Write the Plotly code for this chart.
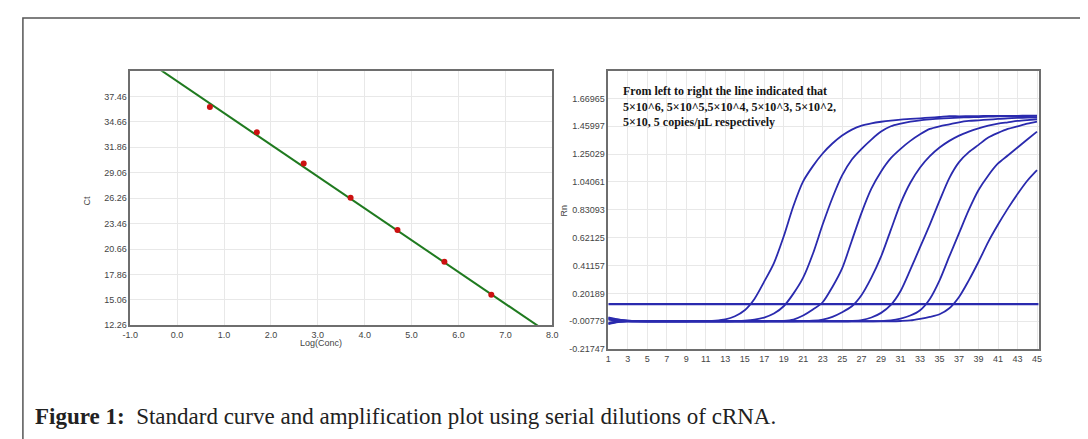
import plotly.graph_objects as go

W, H = 1088, 439

# ---------------- Standard curve data ----------------
log_conc = [0.699, 1.699, 2.699, 3.699, 4.699, 5.699, 6.699]
ct_values = [36.30, 33.51, 30.06, 26.29, 22.74, 19.26, 15.63]
fit_slope = -3.50
fit_intercept = 39.13
std_xticks = [-1.0, 0.0, 1.0, 2.0, 3.0, 4.0, 5.0, 6.0, 7.0, 8.0]
std_yticks = [12.26, 15.06, 17.86, 20.66, 23.46, 26.26, 29.06, 31.86, 34.66, 37.46]
std_xrange = [-1.0, 8.0]
std_yrange = [12.26, 40.22]

# ---------------- Amplification plot data ----------------
cycles = list(range(1, 46))
curve_5e6 = [0.018, 0.004, -0.004, -0.007, -0.008, -0.008, -0.008, -0.008, -0.008, -0.007,
             -0.006, -0.003, 0.006, 0.030, 0.075, 0.160, 0.290, 0.430, 0.630, 0.860,
             1.045, 1.160, 1.255, 1.330, 1.390, 1.435, 1.465, 1.482, 1.494, 1.503,
             1.510, 1.515, 1.520, 1.525, 1.530, 1.536, 1.535, 1.536, 1.537, 1.538,
             1.538, 1.539, 1.539, 1.540, 1.540]
curve_5e5 = [-0.025, -0.012, -0.009, -0.008, -0.008, -0.008, -0.008, -0.008, -0.008, -0.008,
             -0.008, -0.008, -0.008, -0.006, -0.003, 0.004, 0.020, 0.050, 0.105, 0.200,
             0.320, 0.500, 0.720, 0.920, 1.090, 1.210, 1.290, 1.360, 1.420, 1.460,
             1.480, 1.495, 1.505, 1.512, 1.518, 1.522, 1.525, 1.528, 1.530, 1.532,
             1.534, 1.535, 1.536, 1.537, 1.538]
curve_5e4 = [0.010, 0.000, -0.006, -0.008, -0.008, -0.008, -0.008, -0.008, -0.008, -0.008,
             -0.008, -0.008, -0.008, -0.008, -0.008, -0.008, -0.008, -0.007, -0.005, 0.005,
             0.035, 0.080, 0.135, 0.250, 0.390, 0.600, 0.810, 0.990, 1.120, 1.220,
             1.290, 1.350, 1.400, 1.440, 1.460, 1.475, 1.490, 1.500, 1.505, 1.510,
             1.515, 1.520, 1.523, 1.525, 1.527]
curve_5e3 = [-0.020, -0.010, -0.008, -0.008, -0.008, -0.008, -0.008, -0.008, -0.008, -0.008,
             -0.008, -0.008, -0.008, -0.008, -0.008, -0.008, -0.008, -0.008, -0.008, -0.008,
             -0.007, -0.004, 0.005, 0.025, 0.060, 0.105, 0.190, 0.320, 0.480, 0.680,
             0.880, 1.035, 1.150, 1.235, 1.300, 1.350, 1.390, 1.420, 1.445, 1.465,
             1.480, 1.490, 1.500, 1.507, 1.513]
curve_5e2 = [0.005, -0.004, -0.007, -0.008, -0.008, -0.008, -0.008, -0.008, -0.008, -0.008,
             -0.008, -0.008, -0.008, -0.008, -0.008, -0.008, -0.008, -0.008, -0.008, -0.008,
             -0.008, -0.008, -0.008, -0.008, -0.008, -0.006, 0.000, 0.020, 0.055, 0.115,
             0.220, 0.380, 0.550, 0.720, 0.900, 1.070, 1.190, 1.265, 1.320, 1.375,
             1.410, 1.440, 1.460, 1.480, 1.495]
curve_5e1 = [-0.030, -0.014, -0.009, -0.008, -0.008, -0.008, -0.008, -0.008, -0.008, -0.008,
             -0.008, -0.008, -0.008, -0.008, -0.008, -0.008, -0.008, -0.008, -0.008, -0.008,
             -0.008, -0.008, -0.008, -0.008, -0.008, -0.008, -0.008, -0.008, -0.007, -0.002,
             0.012, 0.035, 0.075, 0.160, 0.300, 0.480, 0.655, 0.830, 0.980, 1.090,
             1.180, 1.240, 1.300, 1.360, 1.420]
curve_5e0 = [0.022, 0.006, -0.003, -0.007, -0.008, -0.008, -0.008, -0.008, -0.008, -0.008,
             -0.008, -0.008, -0.008, -0.008, -0.008, -0.008, -0.008, -0.008, -0.008, -0.008,
             -0.008, -0.008, -0.008, -0.008, -0.008, -0.008, -0.008, -0.008, -0.008, -0.008,
             -0.006, -0.002, 0.010, 0.025, 0.045, 0.090, 0.175, 0.300, 0.440, 0.590,
             0.720, 0.840, 0.950, 1.050, 1.130]
amp_curves = [curve_5e6, curve_5e5, curve_5e4, curve_5e3, curve_5e2, curve_5e1, curve_5e0]
threshold = 0.121
amp_xticks = list(range(1, 46, 2))
amp_yticks = [-0.21747, -0.00779, 0.20189, 0.41157, 0.62125, 0.83093,
              1.04061, 1.25029, 1.45997, 1.66965]
amp_xrange = [1, 45.17]
amp_yrange = [-0.21747, 1.87933]

legend_text = ("<b>From left to right the line indicated that<br>"
               "5×10^6, 5×10^5,5×10^4, 5×10^3, 5×10^2,<br>"
               "5×10, 5 copies/μL respectively</b>")
caption_label = "Figure 1:"
caption_text = "Standard curve and amplification plot using serial dilutions of cRNA."

# ---------------- Styles ----------------
GRID = "#e8e8e8"
AXLINE = "#6e6e6e"
TICKFONT = dict(family="Liberation Sans, Arial", size=9, color="#444444")
BLUE = "#2a2aae"

fig = go.Figure()

# Standard curve fit line
fit_y = [fit_slope * x + fit_intercept for x in std_xrange]
fig.add_trace(go.Scatter(x=std_xrange, y=fit_y, mode="lines",
                         line=dict(color="#1f7a1f", width=2),
                         xaxis="x", yaxis="y", hoverinfo="skip"))
fig.add_trace(go.Scatter(x=log_conc, y=ct_values, mode="markers",
                         marker=dict(color="#cc1111", size=6),
                         xaxis="x", yaxis="y"))

# Amplification curves
for c in amp_curves:
    fig.add_trace(go.Scatter(x=cycles, y=c, mode="lines",
                             line=dict(color=BLUE, width=1.8, shape="spline", smoothing=0.8),
                             xaxis="x2", yaxis="y2"))
fig.add_trace(go.Scatter(x=amp_xrange, y=[threshold, threshold], mode="lines",
                         line=dict(color=BLUE, width=2.2),
                         xaxis="x2", yaxis="y2"))

def px_x(p):
    return p / W

def px_y(p):
    return 1 - p / H

axis_common = dict(showgrid=True, gridcolor=GRID, gridwidth=1, zeroline=False,
                   showline=True, mirror=True, linecolor=AXLINE, linewidth=1.5,
                   ticks="", tickfont=TICKFONT, fixedrange=True)

fig.update_layout(
    width=W, height=H,
    margin=dict(l=0, r=0, t=0, b=0),
    paper_bgcolor="white", plot_bgcolor="white",
    showlegend=False,
    xaxis=dict(domain=[px_x(115.7), px_x(543.3)], range=std_xrange,
               tickvals=std_xticks, ticktext=[f"{v:.1f}" for v in std_xticks],
               anchor="y", **axis_common),
    yaxis=dict(domain=[px_y(321), px_y(64)], range=std_yrange,
               tickvals=std_yticks, ticktext=[f"{v:.2f}" for v in std_yticks],
               anchor="x", **axis_common),
    xaxis2=dict(domain=[px_x(600), px_x(1036)], range=amp_xrange,
                tickvals=amp_xticks, ticktext=[str(v) for v in amp_xticks],
                anchor="y2", **axis_common),
    yaxis2=dict(domain=[px_y(345), px_y(63.3)], range=amp_yrange,
                tickvals=amp_yticks, ticktext=[f"{v:.5f}" for v in amp_yticks],
                anchor="x2", **axis_common),
)

annos = [
    dict(text="Ct", x=px_x(71.7), y=px_y(195), textangle=-90,
         font=dict(family="Liberation Sans, Arial", size=9, color="#444444")),
    dict(text="Log(Conc)", x=px_x(309), y=px_y(338.7),
         font=dict(family="Liberation Sans, Arial", size=9, color="#444444")),
    dict(text="Rn", x=px_x(555), y=px_y(205), textangle=-90,
         font=dict(family="Liberation Sans, Arial", size=9, color="#444444")),
    dict(text=legend_text, x=px_x(613), y=px_y(100), xanchor="left", yanchor="middle",
         align="left", font=dict(family="Liberation Serif, Times New Roman", size=12, color="#151515")),
    dict(text=f"<b>{caption_label}</b>  {caption_text}", x=px_x(17), y=px_y(413),
         xanchor="left", yanchor="middle", align="left",
         font=dict(family="Liberation Serif, Times New Roman", size=23, color="#222222")),
]
for a in annos:
    a.setdefault("xanchor", "center")
    a.setdefault("yanchor", "middle")
    fig.add_annotation(xref="paper", yref="paper", showarrow=False, **a)

# Outer figure frame
fig.add_shape(type="rect", xref="paper", yref="paper",
              x0=px_x(7), y0=px_y(10), x1=px_x(1100), y1=px_y(460),
              line=dict(color="#555555", width=1.5), fillcolor="rgba(0,0,0,0)", layer="below")

fig.write_html("out.html")
